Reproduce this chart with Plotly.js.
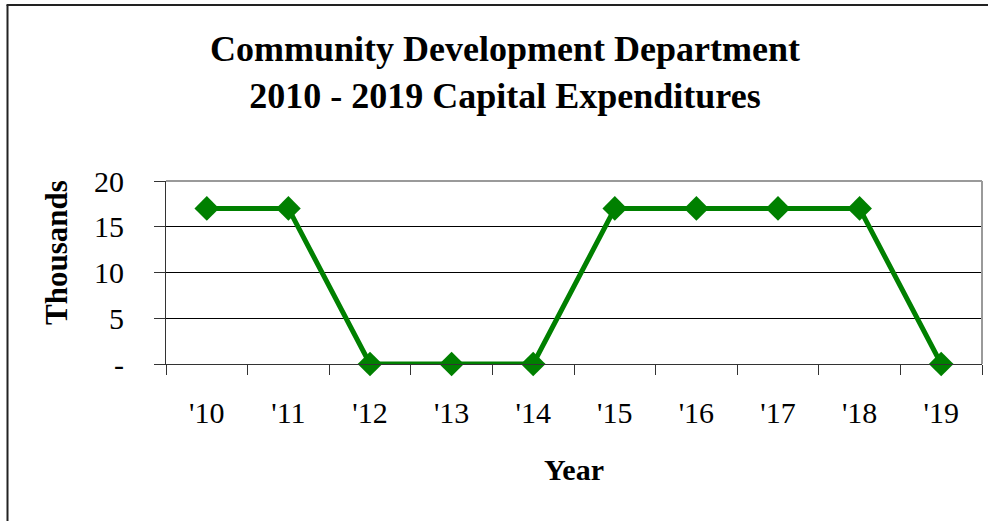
<!DOCTYPE html>
<html>
<head>
<meta charset="utf-8">
<script src="https://cdn.plot.ly/plotly-3.0.1.min.js"></script>
<style>
  body { margin: 0; background: #fff; }
  #chart { width: 988px; height: 521px; }
</style>
</head>
<body>
<div id="chart"></div>
<script>
'use strict';

var years = ["'10", "'11", "'12", "'13", "'14", "'15", "'16", "'17", "'18", "'19"];
var spending = [17, 17, 0, 0, 0, 17, 17, 17, 17, 0]; // thousands
var yTickVals = [0, 5, 10, 15, 20];
var yTickText = ['-', '5', '10', '15', '20'];

var serif = 'Liberation Serif, Times New Roman, serif';
var green = '#008000';

// plot box in pixels (from the reference)
var W = 988, H = 521;
var m = { l: 166, r: 6, t: 181, b: 157 };
var pw = W - m.l - m.r, ph = H - m.t - m.b;

function px(x) { return (x - m.l) / pw; }
function py(y) { return (H - m.b - y) / ph; }

var trace = {
  x: years,
  y: spending,
  type: 'scatter',
  mode: 'lines+markers',
  line: { color: green, width: 5 },
  marker: { symbol: 'diamond', size: 19, color: green },
  cliponaxis: false,
  hoverinfo: 'x+y'
};

var layout = {
  width: W,
  height: H,
  margin: m,
  paper_bgcolor: '#fff',
  plot_bgcolor: '#fff',
  showlegend: false,
  font: { family: serif, color: '#000', size: 30 },
  title: {
    text: '<b>Community Development Department<br>2010 - 2019 Capital Expenditures</b>',
    font: { family: serif, size: 36, color: '#000' },
    xref: 'container', yref: 'container',
    x: 505 / W, xanchor: 'center',
    y: 1 - 61 / H, yanchor: 'top'
  },
  xaxis: {
    type: 'category',
    range: [-0.5, 9.5],
    tickson: 'boundaries',
    ticks: 'outside',
    ticklen: 10,
    tickwidth: 1,
    tickcolor: '#333',
    ticklabelstandoff: 22,
    showline: true,
    linecolor: '#333',
    linewidth: 1,
    showgrid: false,
    zeroline: false,
    tickfont: { family: serif, size: 30, color: '#000' },
    title: {
      text: '<b>Year</b>',
      font: { family: serif, size: 30, color: '#000' },
      standoff: 30
    }
  },
  yaxis: {
    range: [0, 20],
    tickvals: yTickVals,
    ticktext: yTickText,
    ticks: 'outside',
    ticklen: 11,
    tickwidth: 1,
    tickcolor: '#333',
    ticklabelstandoff: 24,
    showline: true,
    linecolor: '#333',
    linewidth: 1,
    showgrid: true,
    gridcolor: '#000',
    gridwidth: 1,
    zeroline: false,
    tickfont: { family: serif, size: 30, color: '#000' }
  },
  annotations: [{
    text: '<b>Thousands</b>',
    textangle: -90,
    xref: 'paper', yref: 'paper',
    x: px(56), y: py(253),
    xanchor: 'center', yanchor: 'middle',
    showarrow: false,
    font: { family: serif, size: 31, color: '#000' }
  }],
  shapes: [
    // gray top and right border of the plot area
    { type: 'line', xref: 'paper', yref: 'paper', x0: 0, x1: 1, y0: 1, y1: 1,
      line: { color: '#9a9a9a', width: 2 }, layer: 'above' },
    { type: 'line', xref: 'paper', yref: 'paper', x0: 1, x1: 1, y0: 0, y1: 1,
      line: { color: '#9a9a9a', width: 2 }, layer: 'above' },
    // outer frame of the chart (left and top edges only are visible)
    { type: 'line', xref: 'paper', yref: 'paper', x0: px(7.5), x1: px(7.5), y0: py(H + 2), y1: py(5),
      line: { color: '#222', width: 2 } },
    { type: 'line', xref: 'paper', yref: 'paper', x0: px(6.5), x1: px(W + 2), y0: py(5), y1: py(5),
      line: { color: '#222', width: 2 } }
  ]
};

Plotly.newPlot('chart', [trace], layout, { displayModeBar: false, staticPlot: true });
</script>
</body>
</html>
